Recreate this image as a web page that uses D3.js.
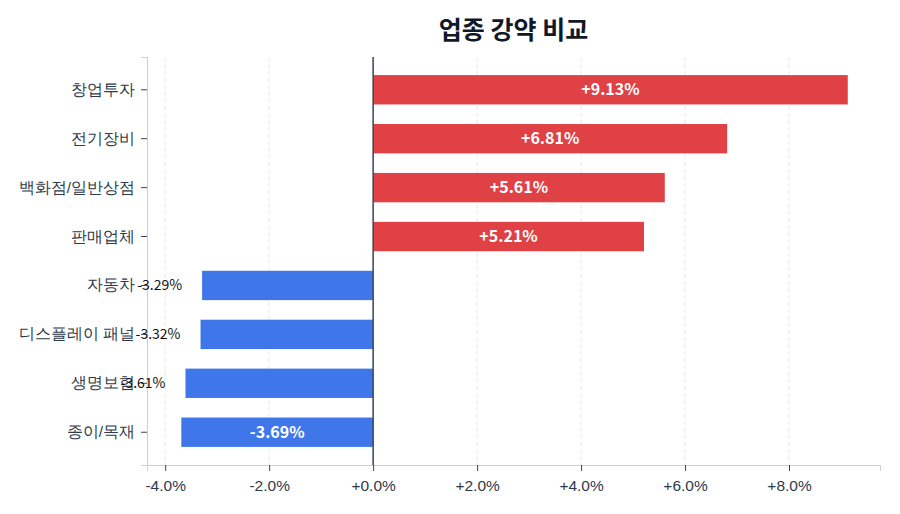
<!DOCTYPE html>
<html>
<head>
<meta charset="utf-8">
<script src="https://cdn.jsdelivr.net/npm/d3@7"></script>
<style>
  body { margin: 0; background: #fff; }
  svg { font-family: "Noto Sans CJK KR", "Noto Sans", sans-serif; }
</style>
</head>
<body>
<div id="chart"></div>
<script>
const sectors = ["창업투자", "전기장비", "백화점/일반상점", "판매업체", "자동차", "디스플레이 패널", "생명보험", "종이/목재"];
const changes = [9.13, 6.81, 5.61, 5.21, -3.29, -3.32, -3.61, -3.69];
const xTicks = [-4, -2, 0, 2, 4, 6, 8];

let drawChart = function () {
    const width = 900;
    const height = 514;
    const margin = { top: 57, right: 20, bottom: 49, left: 147 };

    let svg = d3.select("#chart")
        .append("svg")
        .attr("width", width)
        .attr("height", height);

    // Scales
    let xScale = d3.scaleLinear()
        .domain([-4.35, 9.75])
        .range([margin.left, width - margin.right]);
    let yScale = d3.scaleBand()
        .domain(sectors)
        .range([margin.top, height - margin.bottom])
        .paddingInner(0.4)
        .paddingOuter(0.37);

    const data = sectors.map((s, i) => ({ name: s, value: changes[i] }));

    // grid
    svg.append("g")
        .selectAll("line")
        .data(xTicks)
        .enter()
        .append("line")
        .attr("x1", d => xScale(d))
        .attr("x2", d => xScale(d))
        .attr("y1", margin.top)
        .attr("y2", height - margin.bottom)
        .attr("stroke", "#e5e7eb")
        .attr("stroke-dasharray", "4,3");

    // bars
    svg.append("g")
        .selectAll("rect")
        .data(data)
        .enter()
        .append("rect")
        .attr("x", d => xScale(Math.min(0, d.value)))
        .attr("y", d => yScale(d.name))
        .attr("width", d => Math.abs(xScale(d.value) - xScale(0)))
        .attr("height", yScale.bandwidth())
        .attr("fill", d => d.value >= 0 ? "#e04144" : "#3f77ea");

    // zero line
    svg.append("line")
        .attr("x1", xScale(0))
        .attr("x2", xScale(0))
        .attr("y1", margin.top)
        .attr("y2", height - margin.bottom)
        .attr("stroke", "#3b4556")
        .attr("stroke-width", 1.5);

    // axes
    let xAxis = svg.append("g")
        .attr("transform", `translate(0, ${height - margin.bottom})`)
        .call(d3.axisBottom(xScale)
            .tickValues(xTicks)
            .tickSize(6)
            .tickPadding(6)
            .tickFormat(d => (d >= 0 ? "+" : "") + d.toFixed(1) + "%"));
    let yAxis = svg.append("g")
        .attr("transform", `translate(${margin.left}, 0)`)
        .call(d3.axisLeft(yScale).tickSize(6).tickPadding(6));

    [xAxis, yAxis].forEach(ax => {
        ax.select(".domain").attr("stroke", "#cbd0d8");
        ax.selectAll(".tick line").attr("stroke", "#3b4556");
        ax.selectAll("text").attr("fill", "#2f3a4a");
    });
    xAxis.selectAll("text").attr("dy", "0.9em").style("font-size", "15.5px");
    yAxis.selectAll("text").style("font-size", "15.5px");

    // value labels
    const inside = d => Math.abs(xScale(d.value) - xScale(0)) > 190;
    svg.append("g")
        .selectAll("text")
        .data(data)
        .enter()
        .append("text")
        .attr("x", d => inside(d) ? (xScale(d.value) + xScale(0)) / 2 : xScale(d.value) - 20)
        .attr("y", d => yScale(d.name) + yScale.bandwidth() / 2)
        .attr("dy", "0.35em")
        .attr("text-anchor", d => inside(d) ? "middle" : "end")
        .attr("fill", d => inside(d) ? "#fff" : "#111")
        .style("font-weight", d => inside(d) ? "bold" : "normal")
        .style("font-size", d => inside(d) ? "16px" : "14px")
        .text(d => (d.value >= 0 ? "+" : "") + d.value.toFixed(2) + "%");

    // title
    svg.append("text")
        .attr("x", (margin.left + width - margin.right) / 2)
        .attr("y", 39)
        .attr("text-anchor", "middle")
        .attr("fill", "#111827")
        .style("font-size", "25px")
        .style("font-weight", "bold")
        .text("업종 강약 비교");
};

drawChart();
</script>
</body>
</html>
